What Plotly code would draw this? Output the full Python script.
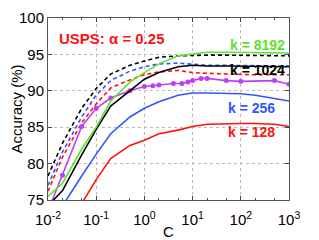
import plotly.graph_objects as go

# ---- data ----
C_grid = [0.01, 0.02, 0.05, 0.1, 0.2, 0.5, 1, 2, 5, 10, 20, 50, 100, 200, 500, 1000]

dash_black = [78.3, 82.8, 87.6, 90.3, 92.3, 93.5, 94.1, 94.6, 94.8, 94.9, 94.9, 94.9, 94.9, 94.9, 94.8, 94.8]
dash_blue  = [77.0, 81.6, 86.4, 89.4, 91.4, 92.7, 93.3, 93.7, 93.8, 93.6, 93.5, 93.5, 93.5, 93.4, 93.4, 93.4]
dash_red   = [76.2, 80.9, 85.6, 88.2, 90.4, 91.5, 92.2, 92.6, 92.8, 92.5, 92.4, 92.3, 92.2, 92.2, 92.2, 92.2]

k8192 = [75.5, 77.3, 82.0, 85.0, 88.6, 91.2, 92.5, 93.7, 94.8, 95.1, 95.3, 95.3, 95.3, 95.3, 95.2, 95.2]
k1024 = [74.2, 76.3, 81.2, 84.7, 87.9, 90.0, 91.6, 92.5, 93.3, 93.5, 93.4, 93.4, 93.4, 93.4, 93.3, 93.3]
k256  = [70.0, 74.2, 78.3, 81.3, 84.1, 86.4, 87.6, 88.5, 89.4, 89.7, 89.7, 89.7, 89.6, 89.4, 89.0, 88.6]
k128  = [62.0, 68.0, 74.5, 77.8, 80.7, 82.5, 83.2, 84.1, 84.6, 85.1, 85.4, 85.5, 85.5, 85.5, 85.4, 85.1]

C_mark = [0.01, 0.02, 0.05, 0.1, 0.2, 0.5, 1, 1.5, 2, 4, 6, 8, 10, 15, 20, 50, 100, 500, 1000]
mag    = [73.5, 78.4, 85.1, 87.6, 89.0, 90.0, 90.6, 90.7, 90.8, 91.0, 91.0, 91.2, 91.4, 91.7, 91.7, 91.4, 91.3, 91.4, 90.9]

xtick_vals = [0.01, 0.1, 1, 10, 100, 1000]
xtick_text = ["10<sup>-2</sup>", "10<sup>-1</sup>", "10<sup>0</sup>", "10<sup>1</sup>", "10<sup>2</sup>", "10<sup>3</sup>"]
ytick_vals = [75, 80, 85, 90, 95, 100]

GREEN = "#5CE22E"
BLUE = "#3355FF"
RED = "#FF1111"
MAG = "#C040F0"
BLACK = "#000000"

fig = go.Figure()
for ys, col in [(dash_black, BLACK), (dash_blue, BLUE), (dash_red, RED)]:
    fig.add_trace(go.Scatter(x=C_grid, y=ys, mode="lines",
                             line=dict(color=col, width=1.6, dash="4px,3px")))
fig.add_trace(go.Scatter(x=C_mark, y=mag, mode="lines+markers",
                         line=dict(color=MAG, width=1.6),
                         marker=dict(color=MAG, size=5)))
for ys, col in [(k128, RED), (k256, BLUE), (k1024, BLACK), (k8192, GREEN)]:
    fig.add_trace(go.Scatter(x=C_grid, y=ys, mode="lines",
                             line=dict(color=col, width=1.6)))

font_f = "Liberation Sans, Arial, Helvetica, sans-serif"
labels = [("k = 8192", GREEN, 0.99, 45), ("k = 1024", BLACK, 0.99, 70),
          ("k = 256", BLUE, 0.95, 108), ("k = 128", RED, 0.95, 132)]
for txt, col, xp, ypix in labels:
    fig.add_annotation(text="<b>%s</b>" % txt, xref="paper", yref="paper",
                       x=xp, y=(200 - ypix) / 182.0, xanchor="right", yanchor="middle",
                       showarrow=False, font=dict(color=col, size=14, family=font_f))
fig.add_annotation(text="<b>USPS: α = 0.25</b>", xref="paper", yref="paper",
                   x=(57 - 48) / 241.0, y=(200 - 38) / 182.0, xanchor="left", yanchor="middle",
                   showarrow=False, font=dict(color=RED, size=15, family=font_f))

# page body has an 8px default margin, so the figure is 8px smaller than the window
fig.update_layout(
    width=311, height=232,
    margin=dict(l=40, r=30, t=10, b=40, autoexpand=False),
    paper_bgcolor="white", plot_bgcolor="white",
    showlegend=False,
    font=dict(family=font_f, size=15, color="black"),
)
fig.update_xaxes(type="log", range=[-2, 3], tickvals=xtick_vals, ticktext=xtick_text,
                 ticks="inside", ticklen=4, showline=True, linecolor="#555", linewidth=1,
                 mirror="ticks", showgrid=True, gridcolor="#bbbbbb", griddash="dot", gridwidth=1,
                 zeroline=False, automargin=False, ticklabelstandoff=6,
                 minor=dict(ticks="inside", ticklen=2, tickcolor="#555", showgrid=False),
                 title=dict(text="C", font=dict(size=15), standoff=0),
                 tickfont=dict(size=15))
fig.update_yaxes(range=[75, 100], tickvals=ytick_vals,
                 ticks="inside", ticklen=4, showline=True, linecolor="#555", linewidth=1,
                 mirror="ticks", showgrid=True, gridcolor="#bbbbbb", griddash="dot", gridwidth=1,
                 zeroline=False, automargin=False,
                 title=dict(text="Accuracy (%)", font=dict(size=15), standoff=0),
                 tickfont=dict(size=15))

fig.write_html("out.html")
